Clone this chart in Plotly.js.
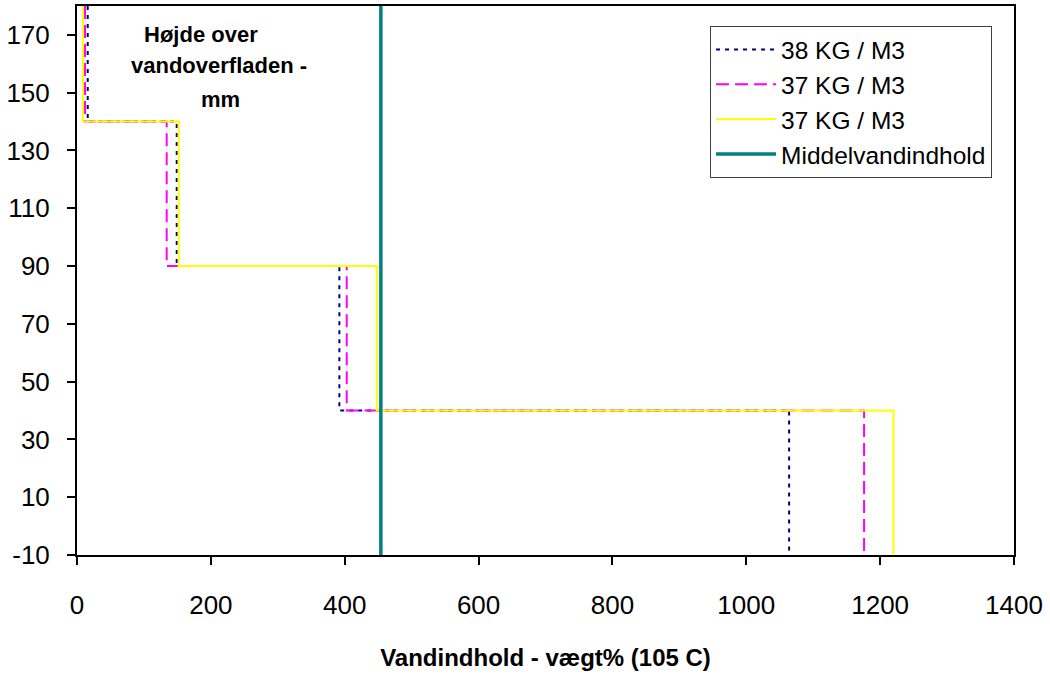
<!DOCTYPE html>
<html>
<head>
<meta charset="utf-8">
<script src="https://cdn.plot.ly/plotly-3.0.1.min.js"></script>
<style>html,body{margin:0;padding:0;background:#fff}#chart{width:1050px;height:677px}</style>
</head>
<body>
<div id="chart"></div>
<script>
// Layer boundaries (height above water surface, mm)
const heights = [180, 140, 90, 40, -10];
// Water content per layer (weight %), top to bottom
const x38 = [16, 149, 392, 1064];
const x37a = [12, 134, 403, 1176];
const x37b = [9, 152, 448, 1220];
const meanValue = 454;
const seriesNames = ['38 KG / M3', '37 KG / M3', '37 KG / M3', 'Middelvandindhold'];
const xTicks = [0, 200, 400, 600, 800, 1000, 1200, 1400];
const yTicks = [-10, 10, 30, 50, 70, 90, 110, 130, 150, 170];

function stepProfile(xs) {
  const px = [], py = [];
  for (let i = 0; i < xs.length; i++) {
    px.push(xs[i], xs[i]);
    py.push(heights[i], heights[i + 1]);
  }
  return {x: px, y: py};
}

const FONT = 'Liberation Sans, Arial, sans-serif';
const s1 = stepProfile(x38), s2 = stepProfile(x37a), s3 = stepProfile(x37b);

const traces = [
  {x: s1.x, y: s1.y, mode: 'lines', name: seriesNames[0], legendgroup: 'a',
   line: {color: '#000080', width: 2, dash: '4px,5px'}},
  {x: s2.x, y: s2.y, mode: 'lines', name: seriesNames[1], legendgroup: 'b',
   line: {color: '#FF00FF', width: 2, dash: '13px,6px'}},
  {x: s3.x, y: s3.y, mode: 'lines', name: seriesNames[2], legendgroup: 'c',
   line: {color: '#FFFF00', width: 2}},
  {x: [meanValue, meanValue], y: [heights[heights.length - 1], heights[0]], mode: 'lines',
   name: seriesNames[3], legendgroup: 'd',
   line: {color: '#008080', width: 3.5}}
];

const layout = {
  width: 1050, height: 677,
  margin: {l: 77, r: 36, t: 6, b: 122, pad: 0},
  paper_bgcolor: '#fff', plot_bgcolor: '#fff',
  font: {family: FONT, color: '#000', size: 24},
  showlegend: true,
  legend: {x: 0.6756, y: 0.9636, xanchor: 'left', yanchor: 'top',
    bgcolor: '#fff', bordercolor: '#404040', borderwidth: 1,
    font: {family: FONT, size: 24.5, color: '#000'}, tracegroupgap: 0, itemwidth: 60},
  xaxis: {range: [0, 1400], tickvals: xTicks, ticktext: xTicks.map(String),
    showgrid: false, zeroline: false, showline: true, linecolor: '#000', linewidth: 2,
    mirror: true, ticks: 'outside', ticklen: 8, tickwidth: 2, tickcolor: '#000',
    ticklabelstandoff: 18,
    tickfont: {family: FONT, size: 26},
    title: {text: 'Vandindhold - vægt% (105 C)', font: {family: FONT, size: 24, weight: 'bold'}, standoff: 30}},
  yaxis: {range: [-10, 180], tickvals: yTicks, ticktext: yTicks.map(String),
    showgrid: false, zeroline: false, showline: true, linecolor: '#000', linewidth: 2,
    mirror: true, ticks: 'outside', ticklen: 8, tickwidth: 2, tickcolor: '#000',
    ticklabelstandoff: 12,
    tickfont: {family: FONT, size: 26}},
  annotations: [
    {x: 185, y: 170.3, xref: 'x', yref: 'y', text: '<b>Højde over</b>', showarrow: false,
     font: {family: FONT, size: 22}, xanchor: 'center', yanchor: 'middle'},
    {x: 212, y: 159.3, xref: 'x', yref: 'y', text: '<b>vandoverfladen -</b>', showarrow: false,
     font: {family: FONT, size: 22}, xanchor: 'center', yanchor: 'middle'},
    {x: 215, y: 147.8, xref: 'x', yref: 'y', text: '<b>mm</b>', showarrow: false,
     font: {family: FONT, size: 22}, xanchor: 'center', yanchor: 'middle'}
  ]
};

Plotly.newPlot('chart', traces, layout, {displayModeBar: false, staticPlot: true});
</script>
</body>
</html>
